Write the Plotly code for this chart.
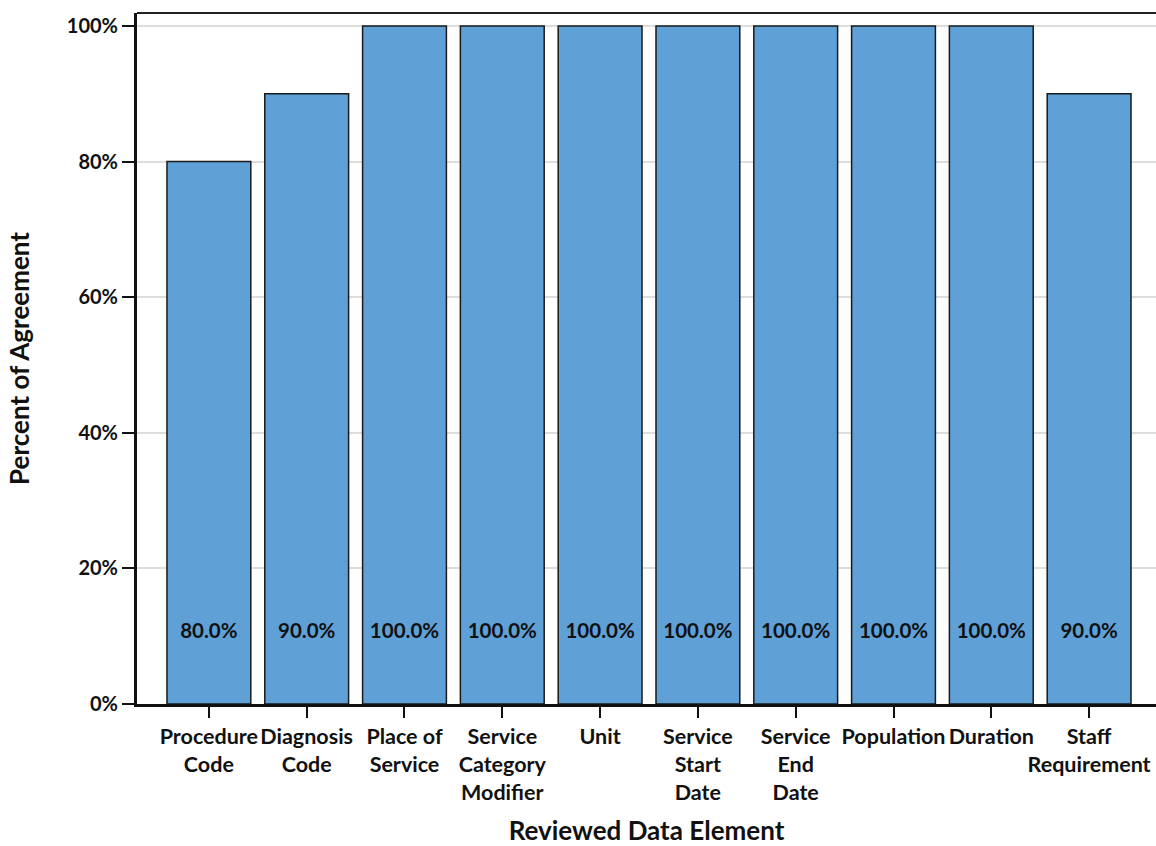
import plotly.graph_objects as go

categories = ["Procedure<br>Code", "Diagnosis<br>Code", "Place of<br>Service",
              "Service<br>Category<br>Modifier", "Unit", "Service<br>Start<br>Date",
              "Service<br>End<br>Date", "Population", "Duration", "Staff<br>Requirement"]
values = [80.0, 90.0, 100.0, 100.0, 100.0, 100.0, 100.0, 100.0, 100.0, 90.0]
value_labels = [f"{v:.1f}%" for v in values]
y_ticks = [0, 20, 40, 60, 80, 100]
y_tick_labels = [f"{t}%" for t in y_ticks]

LABEL_Y = 10.5
FONT = "Lato"
BAR_COLOR = "#5fa0d7"

fig = go.Figure()
fig.add_trace(go.Bar(
    x=categories, y=values,
    marker=dict(color=BAR_COLOR, line=dict(color="#1a1a1a", width=1.5)),
    hoverinfo="skip",
))
fig.add_trace(go.Scatter(
    x=categories, y=[LABEL_Y] * len(categories),
    mode="text", text=value_labels,
    textfont=dict(family=FONT, size=20.5, color="#111111", weight="bold"),
    hoverinfo="skip",
))

fig.update_layout(
    width=1156, height=846,
    margin=dict(l=137, r=0, t=13, b=142),
    plot_bgcolor="white", paper_bgcolor="white",
    showlegend=False,
    bargap=0.143,
    font=dict(family=FONT, size=20, color="#111111", weight="bold"),
    shapes=[dict(type="line", xref="paper", yref="paper", x0=0, x1=1, y0=1, y1=1,
                 line=dict(color="#222222", width=2))],
)
fig.update_xaxes(
    range=[-0.735, 9.684],
    automargin=False,
    tickangle=0,
    showline=True, linecolor="#111111", linewidth=3,
    ticks="outside", ticklen=11, tickwidth=2, tickcolor="#111111",
    tickfont=dict(family=FONT, size=21.5, color="#111111", weight="bold"),
    title=dict(text="Reviewed Data Element", standoff=22,
               font=dict(family=FONT, size=26, color="#111111", weight="bold")),
    showgrid=False,
)
fig.update_yaxes(
    range=[0, 101.9],
    automargin=False,
    tickvals=y_ticks, ticktext=y_tick_labels,
    showline=True, linecolor="#111111", linewidth=3,
    ticks="outside", ticklen=12, tickwidth=2, tickcolor="#111111",
    tickfont=dict(family=FONT, size=20, color="#111111", weight="bold"),
    showgrid=True, gridcolor="#dddddd", gridwidth=1.5,
    zeroline=False,
    title=dict(text="Percent of Agreement", standoff=30,
               font=dict(family=FONT, size=26, color="#111111", weight="bold")),
)

fig.write_html("out.html", config={"displayModeBar": False},
               post_script="document.body.style.margin='0';")
